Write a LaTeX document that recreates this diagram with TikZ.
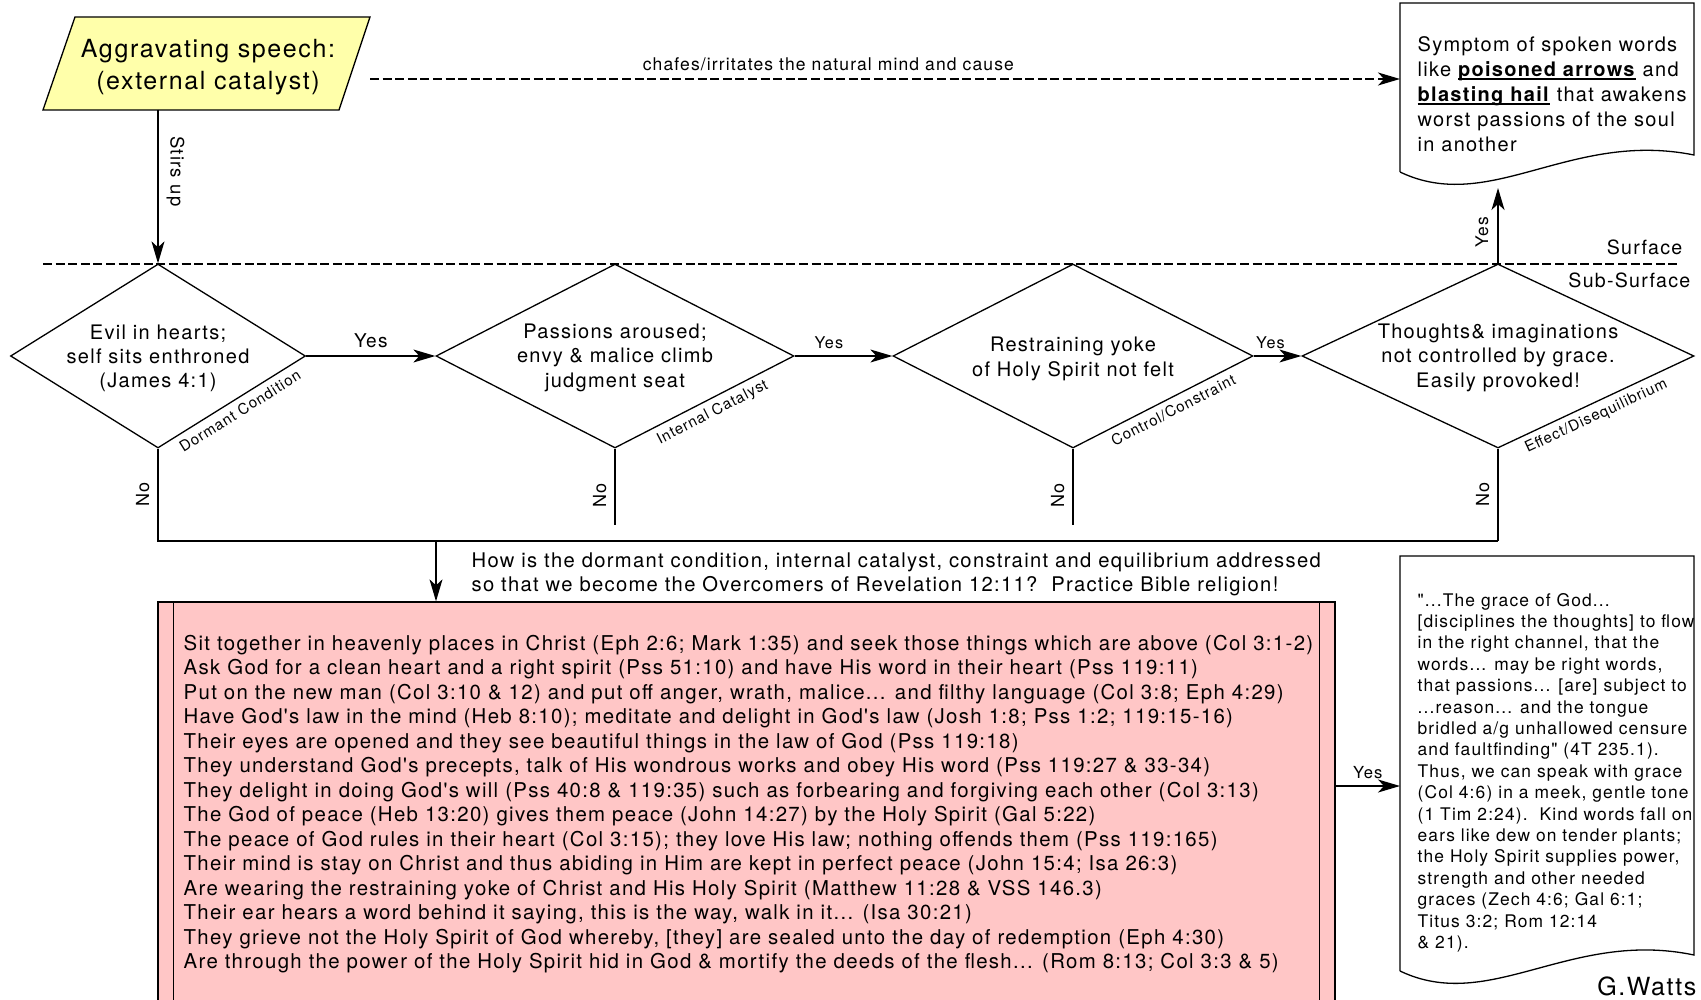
\documentclass[tikz,border=0pt]{standalone}
\usepackage{fontspec}
\newfontfamily\hv{TeX Gyre Heros}[LetterSpace=6.5]
\usetikzlibrary{arrows.meta,shapes.geometric,calc}
\definecolor{pinkfill}{RGB}{255,198,198}
\definecolor{yelfill}{RGB}{255,255,170}
\newcommand{\fs}[2]{\hv\fontsize{#1}{#2}\selectfont}
\newcommand{\TL}[1]{\begin{tabular}[t]{@{}l@{}}#1\end{tabular}}
\newcommand{\TC}[1]{\begin{tabular}[t]{@{}c@{}}#1\end{tabular}}
\newsavebox{\ulbox}
\newcommand{\ulb}[1]{\sbox{\ulbox}{\textbf{#1}}\rlap{\rule[-1.6pt]{\wd\ulbox}{1pt}}\usebox{\ulbox}}
\begin{document}
\begin{tikzpicture}[x=0.5pt,y=-0.5pt,line width=0.65pt,
  >={Stealth[length=11pt,width=6.5pt,inset=3pt]},
  dashline/.style={dash pattern=on 4.5pt off 1.8pt},
  dia/.style={draw, diamond, inner sep=0pt, minimum height=92pt},
  txt/.style={inner sep=0pt},
  no/.style={txt, rotate=90, anchor=south, inner sep=4pt, font=\fs{9}{10}},
  diag/.style={txt, sloped, anchor=north west, inner sep=2.5pt, font=\fs{7.5}{9}},
  main/.style={txt, font=\fs{10}{12.25}}
]
\useasboundingbox (0,0) rectangle (1701,1000);

% parallelogram (external catalyst)
\coordinate (p1) at (75,17);
\coordinate (p2) at (370,17);
\coordinate (p3) at (339,110);
\coordinate (p4) at (43,110);
\draw[fill=yelfill] (p1) -- (p2) -- (p3) -- (p4) -- cycle;
\node[txt, font=\fs{12.5}{16}, anchor=base] (par) at (208,58) {\TC{Aggravating speech:\\(external catalyst)}};

% top document
\coordinate (ta) at (1400,172);
\coordinate (tb) at (1400,3);
\coordinate (tc) at (1694,3);
\coordinate (td) at (1694,155);
\draw (ta) -- (tb) -- (tc) -- (td) .. controls (1570,130) and (1490,215) .. (ta);
\node[txt, font=\fs{10}{12.5}, anchor=base west] (tdoc) at (1417,52) {\TL{Symptom of spoken words\\like \ulb{poisoned arrows} and\\\ulb{blasting hail} that awakens\\worst passions of the soul\\in another}};

\coordinate (cs) at (370,79);
\coordinate (tdw) at (1400,79);
\draw[dashline,->] (cs) -- (tdw) node[txt, font=\fs{8.75}{10}, pos=0.445, anchor=base, yshift=4pt] (chafe) {chafes/irritates the natural mind and cause};

% surface line
\coordinate (sl) at (43,264);
\coordinate (sr) at (1678,264);
\draw[dashline] (sl) -- (sr);
\node[txt, font=\fs{9.8}{12}, anchor=base east] (surf) at (1683,255) {Surface};
\node[txt, font=\fs{9.8}{12}, anchor=base east] (subsurf) at (1691,287) {Sub-Surface};

% diamonds
\node[dia, minimum width=147.5pt] (d1) at (158,356) {};
\node[dia, minimum width=179pt] (d2) at (615,356) {};
\node[dia, minimum width=180pt] (d3) at (1073,356) {};
\node[dia, minimum width=196pt] (d4) at (1498,356) {};

\node[main, font=\fs{10}{12}, anchor=base] (d1t) at (158,339) {\TC{Evil in hearts;\\self sits enthroned\\(James 4:1)}};
\node[main, font=\fs{10}{12.25}, anchor=base] (d2t) at (615,338) {\TC{Passions aroused;\\envy \& malice climb\\judgment seat}};
\node[main, font=\fs{10}{12.5}, anchor=base] (d3t) at (1073,351) {\TC{Restraining yoke\\of Holy Spirit not felt}};
\node[main, font=\fs{10}{12.25}, anchor=base] (d4t) at (1498,338) {\TC{Thoughts\& imaginations\\not controlled by grace.\\Easily provoked!}};

\path (d1.south) -- (d1.east) node[diag, pos=0.08] (l1) {Dormant Condition};
\path (d2.south) -- (d2.east) node[diag, pos=0.18] (l2) {Internal Catalyst};
\path (d3.south) -- (d3.east) node[diag, pos=0.16] (l3) {Control/Constraint};
\path (d4.south) -- (d4.east) node[diag, pos=0.09] (l4) {Effect/Disequilibrium};

% stirs up
\coordinate (s0) at (158,110);
\draw[->] (s0) -- (d1.north) node[txt, pos=0.4, rotate=-90, anchor=south, inner sep=4pt, font=\fs{9.25}{11}] (stir) {Stirs up};

% yes connectors
\draw[->] (d1.east) -- (d2.west) node[txt, midway, anchor=base, yshift=4.5pt, font=\fs{9.5}{11}] (y12) {Yes};
\draw[->] (d2.east) -- (d3.west) node[txt, pos=0.35, anchor=base, yshift=4pt, font=\fs{8.1}{10}] (y23) {Yes};
\draw[->] (d3.east) -- (d4.west) node[txt, pos=0.35, anchor=base, yshift=4pt, font=\fs{8.1}{10}] (y34) {Yes};

\coordinate (tdb) at (1498,188);
\draw[->] (d4.north) -- (tdb) node[txt, pos=0.41, rotate=90, anchor=south, inner sep=4.5pt, font=\fs{8.7}{10}] (y4) {Yes};

% no branches
\coordinate (j1) at (158,541);
\coordinate (j4) at (1498,541);
\coordinate (e2) at (615,525);
\coordinate (e3) at (1073,525);
\coordinate (jm) at (436,541);
\draw (d1.south) -- (j1) node[no, pos=0.5] (n1) {No} -- (j4);
\draw (d4.south) -- (j4) node[no, pos=0.5] (n4) {No};
\draw (d2.south) -- (e2) node[no, pos=0.61] (n2) {No};
\draw (d3.south) -- (e3) node[no, pos=0.61] (n3) {No};

% pink process box
\node[draw, fill=pinkfill, minimum width=588.5pt, minimum height=201.5pt, inner sep=0pt] (pink) at (746.5,803.5) {};
\draw ([xshift=8pt]pink.north west) -- ([xshift=8pt]pink.south west);
\draw ([xshift=-8pt]pink.north east) -- ([xshift=-8pt]pink.south east);
\draw[->] (jm) -- (jm |- pink.north);

\node[main, font=\fs{10.1}{12}, anchor=base west] (how) at (471,567) {\TL{How is the dormant condition, internal catalyst, constraint and equilibrium addressed\\so that we become the Overcomers of Revelation 12:11?\ \ Practice Bible religion!}};

\node[main, font=\fs{10.2}{12.25}, anchor=base west] (ptext) at (183,650) {\TL{%
Sit together in heavenly places in Christ (Eph 2:6; Mark 1:35) and seek those things which are above (Col 3:1-2)\\
Ask God for a clean heart and a right spirit (Pss 51:10) and have His word in their heart (Pss 119:11)\\
Put on the new man (Col 3:10 \& 12) and put off anger, wrath, malice... and filthy language (Col 3:8; Eph 4:29)\\
Have God's law in the mind (Heb 8:10); meditate and delight in God's law (Josh 1:8; Pss 1:2; 119:15-16)\\
Their eyes are opened and they see beautiful things in the law of God (Pss 119:18)\\
They understand God's precepts, talk of His wondrous works and obey His word (Pss 119:27 \& 33-34)\\
They delight in doing God's will (Pss 40:8 \& 119:35) such as forbearing and forgiving each other (Col 3:13)\\
The God of peace (Heb 13:20) gives them peace (John 14:27) by the Holy Spirit (Gal 5:22)\\
The peace of God rules in their heart (Col 3:15); they love His law; nothing offends them (Pss 119:165)\\
Their mind is stay on Christ and thus abiding in Him are kept in perfect peace (John 15:4; Isa 26:3)\\
Are wearing the restraining yoke of Christ and His Holy Spirit (Matthew 11:28 \& VSS 146.3)\\
Their ear hears a word behind it saying, this is the way, walk in it... (Isa 30:21)\\
They grieve not the Holy Spirit of God whereby, {[they]} are sealed unto the day of redemption (Eph 4:30)\\
Are through the power of the Holy Spirit hid in God \& mortify the deeds of the flesh... (Rom 8:13; Col 3:3 \& 5)}};

% bottom document
\coordinate (ba) at (1400,971);
\coordinate (bb) at (1400,556);
\coordinate (bc) at (1694,556);
\coordinate (bd) at (1694,955);
\draw (ba) -- (bb) -- (bc) -- (bd) .. controls (1570,929) and (1490,1014) .. (ba);
\node[txt, font=\fs{8.7}{10.7}, anchor=base west] (bdoc) at (1417,606) {\TL{%
"...The grace of God...\\
{[disciplines the thoughts]} to flow\\
in the right channel, that the\\
words... may be right words,\\
that passions... {[are]} subject to\\
...reason... and the tongue\\
bridled a/g unhallowed censure\\
and faultfinding" (4T 235.1).\\
Thus, we can speak with grace\\
(Col 4:6) in a meek, gentle tone\\
(1 Tim 2:24).\ \ Kind words fall on\\
ears like dew on tender plants;\\
the Holy Spirit supplies power,\\
strength and other needed\\
graces (Zech 4:6; Gal 6:1;\\
Titus 3:2; Rom 12:14\\
\& 21).}};

\coordinate (yb) at (1400,786);
\draw[->] (pink.east |- yb) -- (yb) node[txt, midway, anchor=base, yshift=4pt, font=\fs{8.3}{10}] (ylab) {Yes};

\node[txt, font=\fs{12.5}{14}, anchor=base east] (gw) at (1697,995) {G.Watts};
\end{tikzpicture}
\end{document}
